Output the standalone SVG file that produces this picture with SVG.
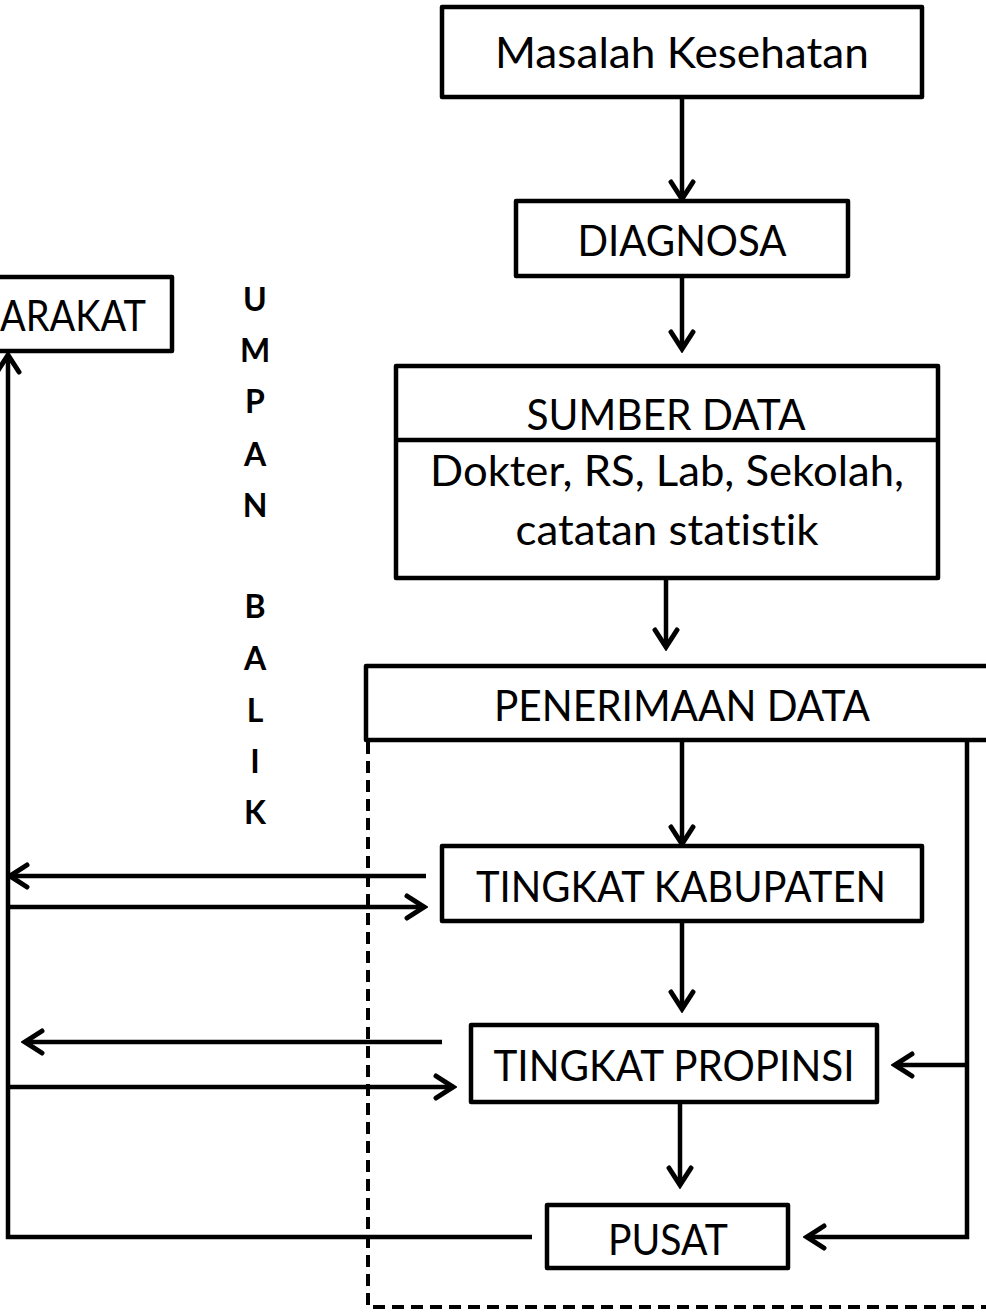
<svg xmlns="http://www.w3.org/2000/svg" width="986" height="1313" viewBox="0 0 986 1313">
<style>
.box{fill:#fff;stroke:#000;stroke-width:4.5;stroke-linejoin:round}
.t{font-family:Lato,"Liberation Sans",sans-serif;font-size:42px;fill:#000;text-anchor:middle;font-variant-ligatures:none}
.v{font-family:Lato,"Liberation Sans",sans-serif;font-size:32px;font-weight:bold;fill:#000;text-anchor:middle}
.c{fill:none;stroke:#000;stroke-width:4.5}
.d{fill:none;stroke:#000;stroke-width:4;stroke-dasharray:12 7}
</style>
<defs>
<marker id="ah" markerUnits="userSpaceOnUse" viewBox="-22 -14 26 28" markerWidth="26" markerHeight="28" refX="0" refY="0" orient="auto">
<path d="M-17,-11 L0,0 L-17,11" fill="none" stroke="#000" stroke-width="5" stroke-linecap="round" stroke-linejoin="miter"/>
</marker>
</defs>
<g id="connectors">
<path class="c" d="M682,97 V199" marker-end="url(#ah)"/>
<path class="c" d="M682,276 V349" marker-end="url(#ah)"/>
<path class="c" d="M666,578 V647" marker-end="url(#ah)"/>
<path class="c" d="M682,740 V844" marker-end="url(#ah)"/>
<path class="c" d="M682,921 V1009" marker-end="url(#ah)"/>
<path class="c" d="M680,1102 V1185" marker-end="url(#ah)"/>
<path class="c" d="M967,740 V1237 H807" marker-end="url(#ah)"/>
<path class="c" d="M967,1065 H895" marker-end="url(#ah)"/>
<path class="c" d="M532,1237 H8 V355" marker-end="url(#ah)"/>
<path class="c" d="M426,876 H10" marker-end="url(#ah)"/>
<path class="c" d="M8,907 H424" marker-end="url(#ah)"/>
<path class="c" d="M442,1042 H25" marker-end="url(#ah)"/>
<path class="c" d="M8,1087 H453" marker-end="url(#ah)"/>
<path class="d" d="M368,742 V1307 H990"/>
</g>
<g id="masalah">
<rect class="box" x="442" y="7" width="480" height="90"/>
<text class="t" x="682" y="68" textLength="374" lengthAdjust="spacingAndGlyphs">Masalah Kesehatan</text>
</g>
<g id="diagnosa">
<rect class="box" x="516" y="201" width="332" height="75"/>
<text class="t" x="682" y="256" textLength="209" lengthAdjust="spacingAndGlyphs">DIAGNOSA</text>
</g>
<g id="masyarakat">
<rect class="box" x="-10" y="277" width="182" height="74"/>
<text class="t" x="146" y="331" style="text-anchor:end" textLength="146" lengthAdjust="spacingAndGlyphs">ARAKAT</text>
</g>
<g id="umpan-balik">
<text class="v" x="255" y="311">U</text>
<text class="v" x="255" y="362">M</text>
<text class="v" x="255" y="413">P</text>
<text class="v" x="255" y="466">A</text>
<text class="v" x="255" y="517">N</text>
<text class="v" x="255" y="618">B</text>
<text class="v" x="255" y="670">A</text>
<text class="v" x="255" y="722">L</text>
<text class="v" x="255" y="773">I</text>
<text class="v" x="255" y="824">K</text>
</g>
<g id="sumber-data">
<rect class="box" x="396" y="366" width="542" height="212"/>
<line x1="396" y1="440" x2="938" y2="440" stroke="#000" stroke-width="4.5"/>
<text class="t" x="666" y="430" textLength="279" lengthAdjust="spacingAndGlyphs">SUMBER DATA</text>
<text class="t" x="667" y="486" textLength="474" lengthAdjust="spacingAndGlyphs">Dokter, RS, Lab, Sekolah,</text>
<text class="t" x="667" y="545" textLength="303" lengthAdjust="spacingAndGlyphs">catatan statistik</text>
</g>
<g id="penerimaan">
<rect class="box" x="366" y="666" width="640" height="74"/>
<text class="t" x="682" y="721" textLength="376" lengthAdjust="spacingAndGlyphs">PENERIMAAN DATA</text>
</g>
<g id="kabupaten">
<rect class="box" x="442" y="846" width="480" height="75"/>
<text class="t" x="681" y="902" textLength="410" lengthAdjust="spacingAndGlyphs">TINGKAT KABUPATEN</text>
</g>
<g id="propinsi">
<rect class="box" x="471" y="1025" width="406" height="77"/>
<text class="t" x="674" y="1081" textLength="361" lengthAdjust="spacingAndGlyphs">TINGKAT PROPINSI</text>
</g>
<g id="pusat">
<rect class="box" x="547" y="1205" width="241" height="63"/>
<text class="t" x="668" y="1255" textLength="120" lengthAdjust="spacingAndGlyphs">PUSAT</text>
</g>
</svg>
